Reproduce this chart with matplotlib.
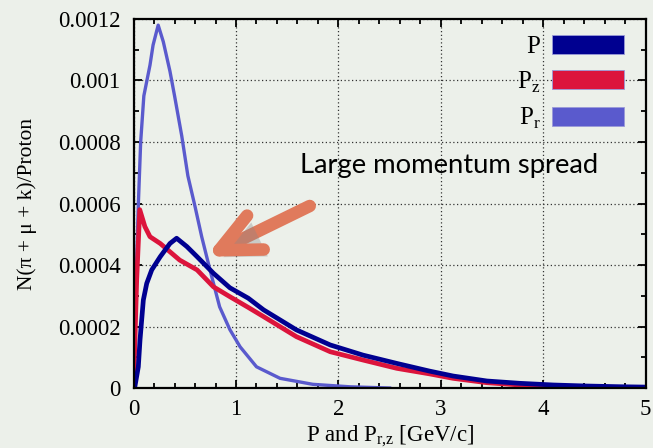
import matplotlib.pyplot as plt
import matplotlib.patheffects as pe
from matplotlib.patches import Patch
from matplotlib.ticker import MultipleLocator

plt.rcParams['font.family'] = ['Liberation Serif', 'DejaVu Serif']
plt.rcParams['mathtext.fontset'] = 'custom'
plt.rcParams['mathtext.rm'] = 'Liberation Serif'

# Data
p_x = [0.0, 0.01, 0.046, 0.0625, 0.095, 0.128, 0.177, 0.26, 0.355, 0.42, 0.52, 0.62, 0.78,
       0.94, 1.12, 1.27, 1.59, 1.92, 2.24, 2.57, 2.89, 3.12, 3.45, 3.77, 4.1, 4.42, 4.75, 5.0]
p_y = [0.0, 0.0, 0.000069, 0.000156, 0.000286, 0.00034, 0.000384, 0.000427, 0.00047, 0.000487,
       0.00046, 0.000427, 0.000373, 0.000326, 0.000292, 0.000254, 0.000189, 0.00014, 0.000107,
       0.00008, 0.000055, 0.000039, 0.0000228, 0.0000153, 0.0000098, 0.0000065, 0.0000042, 0.000003]

pz_x = [0.0, 0.01, 0.03, 0.06, 0.11, 0.16, 0.26, 0.355, 0.45, 0.62, 0.78, 0.94, 1.12, 1.27,
        1.59, 1.92, 2.24, 2.57, 2.89, 3.12, 3.45, 3.77, 4.1, 4.5, 5.0]
pz_y = [0.0, 0.00012, 0.000351, 0.00058, 0.000525, 0.000492, 0.00047, 0.000443, 0.000416,
        0.000384, 0.000329, 0.000297, 0.000262, 0.000232, 0.000167, 0.000118, 0.000091,
        0.000064, 0.000046, 0.0000315, 0.0000173, 0.0000098, 0.000004, 0.000002, 0.000001]

pr_x = [0.0, 0.02, 0.046, 0.069, 0.10, 0.16, 0.19, 0.24, 0.29, 0.355, 0.40, 0.47, 0.53, 0.60,
        0.665, 0.746, 0.84, 0.94, 1.04, 1.20, 1.43, 1.75, 2.11, 2.5]
pr_y = [0.0, 0.0003, 0.000595, 0.0008, 0.00095, 0.00105, 0.001115, 0.00118, 0.001126, 0.00103,
        0.00095, 0.00082, 0.00069, 0.00059, 0.000492, 0.000384, 0.000264, 0.00019, 0.000134,
        0.000069, 0.0000315, 0.000012, 0.000004, 0.0]

labels = ['P', r'P$_{\rm z}$', r'P$_{\rm r}$']
colors = ['#000090', '#dc143c', '#5a5acd']
y_ticks = [0, 0.0002, 0.0004, 0.0006, 0.0008, 0.001, 0.0012]
y_ticklabels = ['0', '0.0002', '0.0004', '0.0006', '0.0008', '0.001', '0.0012']

bg = '#ecf0ea'
fig = plt.figure(figsize=(6.53, 4.48), dpi=100, facecolor=bg)
ax = fig.add_axes([0.2046, 0.1339, 0.7841, 0.8237], facecolor=bg)

ax.plot(pr_x, pr_y, color=colors[2], lw=2.4)
ax.plot(pz_x, pz_y, color=colors[1], lw=3.4)
ax.plot(p_x, p_y, color=colors[0], lw=3.4)

ax.set_xlim(0, 5)
ax.set_ylim(0, 0.0012)
ax.set_yticks(y_ticks)
ax.set_yticklabels(y_ticklabels)
ax.xaxis.set_minor_locator(MultipleLocator(0.2))
ax.yaxis.set_minor_locator(MultipleLocator(0.0001))
ax.tick_params(which='both', direction='in', top=True, right=True, labelsize=16.5, width=1.3)
ax.tick_params(which='major', length=6)
ax.tick_params(axis='y', which='major', pad=9.5)
ax.tick_params(axis='x', which='major', pad=8)
ax.tick_params(which='minor', length=3.5)
for s in ax.spines.values():
    s.set_linewidth(1.6)
ax.grid(True, which='major', color='#333333', linestyle=(0, (1, 2)), lw=0.9)

ax.set_xlabel(r'P and P$_{\rm r{,}z}$ [GeV/c]', fontsize=16.5, labelpad=2.5)
ax.set_ylabel('N(π + μ + k)/Proton', fontsize=15.5, labelpad=15)

handles = [Patch(facecolor=c, edgecolor='#9a9ad8', lw=0.6) for c in colors]
ax.legend(handles, labels, loc='upper right', bbox_to_anchor=(0.99, 1.0),
          markerfirst=False, frameon=False,
          fontsize=18, handlelength=2.9, handleheight=0.78, labelspacing=0.45,
          handletextpad=0.45, borderaxespad=0.25)

ax.text(1.625, 0.000699, 'Large momentum spread', fontsize=19.7, family='Lato',
        transform=ax.transData, va='baseline')

ann = ax.annotate('', xy=(0.707, 0.000427), xytext=(1.72, 0.000592),
                  arrowprops=dict(arrowstyle='->,head_length=1.45,head_width=0.68',
                                  color='#e07a5c', lw=9, capstyle='round',
                                  joinstyle='round', mutation_scale=20,
                                  shrinkA=0, shrinkB=0))
ann.arrow_patch.set_path_effects([pe.SimplePatchShadow(offset=(3, -5), shadow_rgbFace='#888888',
                                                       alpha=0.35), pe.Normal()])

fig.savefig('out.png', dpi=100, facecolor=bg)
